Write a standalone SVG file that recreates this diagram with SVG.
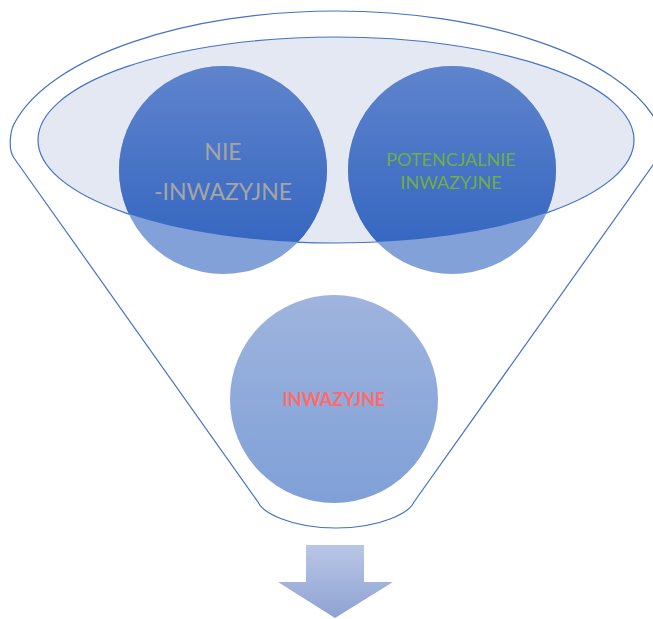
<svg xmlns="http://www.w3.org/2000/svg" width="653" height="619" viewBox="0 0 653 619">
<style>
.line{fill:none;stroke:#4472c4;stroke-width:1.2}
.t{font-family:Lato,"Liberation Sans",sans-serif;text-anchor:middle}
</style>
<defs>
<linearGradient id="gDark" x1="0" y1="0" x2="0" y2="1">
<stop offset="0" stop-color="#5f84cc"/><stop offset="1" stop-color="#2f62bf"/>
</linearGradient>
<linearGradient id="gLight" x1="0" y1="0" x2="0" y2="1">
<stop offset="0" stop-color="#9fb4de"/><stop offset="1" stop-color="#7fa0d7"/>
</linearGradient>
<linearGradient id="gArrow" x1="0" y1="0" x2="0" y2="1">
<stop offset="0" stop-color="#b9c6e6"/><stop offset="1" stop-color="#8ea2d2"/>
</linearGradient>
<clipPath id="inEll"><ellipse cx="336" cy="140" rx="298" ry="103"/></clipPath>
</defs>
<g id="funnel">
<path d="M14,158 C8,150 10,132 14,124 C50,55 190,11 336,11 C482,11 622,55 658,124 C662,132 664,150 658,158 L414,502 C410,512 382,528 336,528 C290,528 262,512 258,502 Z" fill="#fff" stroke="#4472c4" stroke-width="1.2"/>
<ellipse cx="336" cy="140" rx="298" ry="103" fill="#e3e8f3" stroke="#4472c4" stroke-width="1.2"/>
</g>
<g id="nie">
<circle cx="223" cy="170" r="104" fill="#82a1d9"/>
<circle cx="223" cy="170" r="104" fill="url(#gDark)" clip-path="url(#inEll)"/>
<text class="t" x="223" y="160" font-size="23" fill="#a5a5a5">NIE</text>
<text class="t" x="223" y="200" font-size="23" fill="#a5a5a5">-INWAZYJNE</text>
</g>
<g id="potencjalnie">
<circle cx="452" cy="170" r="104" fill="#82a1d9"/>
<circle cx="452" cy="170" r="104" fill="url(#gDark)" clip-path="url(#inEll)"/>
<text class="t" x="451" y="166" font-size="18" fill="#70ad47">POTENCJALNIE</text>
<text class="t" x="451" y="189" font-size="18" fill="#70ad47">INWAZYJNE</text>
</g>
<g id="inwazyjne">
<circle cx="334" cy="399" r="104" fill="url(#gLight)"/>
<text class="t" x="334" y="406" font-size="18" font-weight="bold" fill="#ff6b6b">INWAZYJNE</text>
</g>
<g id="arrow">
<path d="M306,545 L364,545 L364,582 L393,582 L335,618 L278,582 L306,582 Z" fill="url(#gArrow)"/>
</g>
</svg>
